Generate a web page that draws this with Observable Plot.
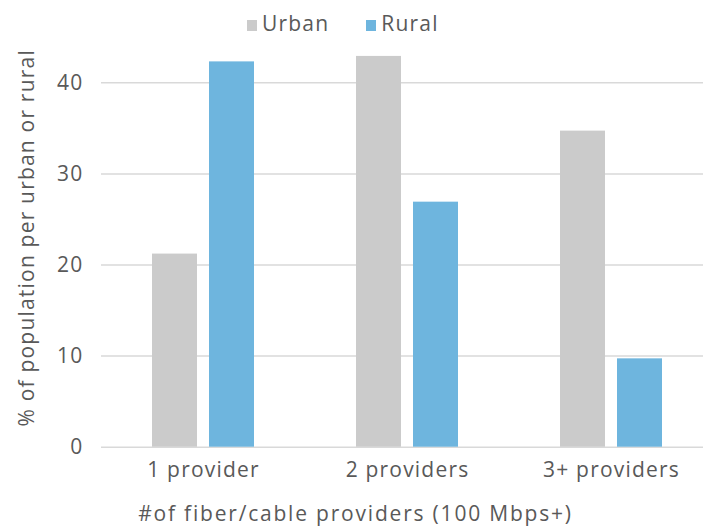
<!DOCTYPE html>
<html>
<head>
<meta charset="utf-8">
<script src="https://cdn.jsdelivr.net/npm/d3@7"></script>
<script src="https://cdn.jsdelivr.net/npm/@observablehq/plot@0.6"></script>
<style>
  html, body { margin: 0; padding: 0; background: #fff; overflow: hidden; }
  body { width: 703px; height: 529px; font-family: "Open Sans", sans-serif; color: #595959; letter-spacing: 1.2px; }
  #legend { height: 44px; box-sizing: border-box; padding-top: 11px; padding-left: 247px; font-size: 21px; line-height: 1.2; white-space: nowrap; }
  #legend span.item { display: inline-block; margin-right: 37px; }
  #legend span.sw { display: inline-block; width: 10px; height: 11px; margin-right: 5px; vertical-align: 0px; }
  #caption { margin-top: 9px; font-size: 21px; line-height: 1; height: 21px; text-align: center; padding-left: 8px; letter-spacing: 1.8px; white-space: nowrap; }
  svg { display: block; }
</style>
</head>
<body>
<div id="legend"></div>
<div id="chart"></div>
<div id="caption"></div>
<script>
const categories = ["1 provider", "2 providers", "3+ providers"];
const series = ["Urban", "Rural"];
const urbanValues = [21.2, 42.9, 34.7];
const ruralValues = [42.3, 26.9, 9.7];
const yTicks = [0, 10, 20, 30, 40];
const seriesColors = ["#cbcbcb", "#6eb5de"];
const xLabel = "#of fiber/cable providers (100 Mbps+)";
const yLabel = "% of population per urban or rural";

const data = [];
categories.forEach((c, i) => {
  data.push({category: c, series: series[0], value: urbanValues[i]});
  data.push({category: c, series: series[1], value: ruralValues[i]});
});

// legend
const legend = document.getElementById("legend");
series.forEach((s, i) => {
  const item = document.createElement("span");
  item.className = "item";
  const sw = document.createElement("span");
  sw.className = "sw";
  sw.style.background = seriesColors[i];
  item.appendChild(sw);
  item.appendChild(document.createTextNode(s));
  legend.appendChild(item);
});
document.getElementById("caption").textContent = xLabel;

const chart = Plot.plot({
  width: 703,
  height: 450,
  marginLeft: 100,
  marginRight: 0,
  marginTop: 1.9,
  marginBottom: 47.3,
  style: {fontFamily: "'Open Sans', sans-serif", fontSize: "21px", color: "#595959", background: "#fff", letterSpacing: "1.2px"},
  fx: {domain: categories, range: [100, 714.2], padding: 0, label: null},
  x: {domain: series, paddingInner: 0.207, paddingOuter: 0.868, axis: null},
  y: {domain: [0, 44], axis: null},
  color: {domain: series, range: seriesColors},
  marks: [
    Plot.gridY(yTicks, {stroke: "#d9d9d9", strokeOpacity: 1, strokeWidth: 1.5}),
    Plot.barY(data, {fx: "category", x: "series", y: "value", fill: "series"}),
    Plot.axisY(yTicks, {tickSize: 0, tickPadding: 18, fontSize: 21, fill: "#595959", label: null, facetAnchor: "left"}),
    Plot.axisFx({anchor: "bottom", tickSize: 0, tickPadding: 15, fontSize: 21, fill: "#595959", label: null}),
    Plot.text([yLabel], {frameAnchor: "left", textAnchor: "middle", lineAnchor: "middle", rotate: -90, dx: -74, dy: -9, fontSize: 21, fill: "#595959", facetAnchor: "left"})
  ]
});
document.getElementById("chart").appendChild(chart);
</script>
</body>
</html>
